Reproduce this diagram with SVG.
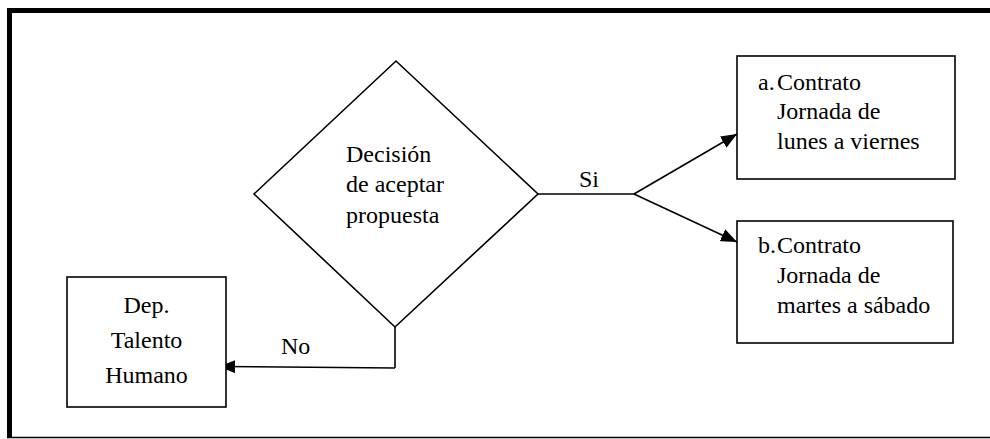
<svg xmlns="http://www.w3.org/2000/svg" width="990" height="439" viewBox="0 0 990 439">
<style>
.shape{fill:#fff;stroke:#000;stroke-width:1.6}
.line{fill:none;stroke:#000;stroke-width:1.6}
.t{font-family:'Liberation Serif','Times New Roman',serif;font-size:24px;fill:#000}
.c{text-anchor:middle}
</style>
<defs>
<marker id="arr" viewBox="0 0 16 13" refX="16" refY="6.5" markerWidth="16" markerHeight="13" markerUnits="userSpaceOnUse" orient="auto">
<path d="M0,0 L16,6.5 L0,13 Z" fill="#000"/>
</marker>
</defs>
<g id="frame">
<rect x="7" y="8" width="983" height="5" fill="#000"/>
<rect x="7" y="8" width="5" height="430" fill="#000"/>
<line x1="7" y1="437.5" x2="990" y2="437.5" stroke="#000" stroke-width="1.5"/>
</g>
<g id="connectors">
<polyline class="line" points="538,194 634,194"/>
<line class="line" x1="634" y1="194" x2="737" y2="134" marker-end="url(#arr)"/>
<line class="line" x1="634" y1="194" x2="737" y2="242" marker-end="url(#arr)"/>
<polyline class="line" points="395,327 395,368"/>
<line class="line" x1="395" y1="368" x2="219" y2="366.5" marker-end="url(#arr)"/>
<text class="t" x="579" y="187">Si</text>
<text class="t" x="281" y="354">No</text>
</g>
<g id="decision" class="t">
<polygon class="shape" points="396,61 538,194 395,327 254,194"/>
<text x="346" y="162">Decisión</text>
<text x="346" y="192" textLength="98" lengthAdjust="spacing">de aceptar</text>
<text x="346" y="223">propuesta</text>
</g>
<g id="boxA" class="t">
<rect class="shape" x="737" y="56" width="218" height="123"/>
<text x="758" y="90">a.</text>
<text x="777" y="90">Contrato</text>
<text x="777" y="119">Jornada de</text>
<text x="777" y="149">lunes a viernes</text>
</g>
<g id="boxB" class="t">
<rect class="shape" x="737" y="221" width="216" height="122"/>
<text x="758" y="253">b.</text>
<text x="777" y="253">Contrato</text>
<text x="777" y="283">Jornada de</text>
<text x="777" y="313">martes a sábado</text>
</g>
<g id="talento" class="t">
<rect class="shape" x="67" y="277" width="159" height="130"/>
<text class="c" x="146.5" y="313">Dep.</text>
<text class="c" x="146.5" y="348">Talento</text>
<text class="c" x="146.5" y="383">Humano</text>
</g>
</svg>
